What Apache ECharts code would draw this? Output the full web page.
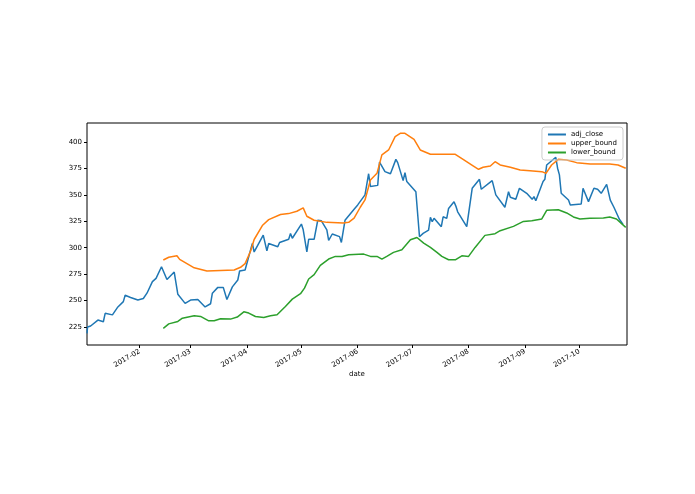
<!DOCTYPE html>
<html>
<head>
<meta charset="utf-8">
<script src="https://cdn.jsdelivr.net/npm/echarts@6/dist/echarts.min.js"></script>
<style>
  html, body { margin: 0; padding: 0; background: #fff; }
  #chart { width: 695px; height: 494px; }
</style>
</head>
<body>
<div id="chart"></div>
<script>
// days counted from 2017-01-01
const closeDays = [2, 2.3, 4, 8, 11, 12, 16, 19, 22, 23, 26, 30, 33, 35, 38, 40, 43, 44, 46, 50, 52, 56, 59, 63, 67, 70, 71, 74, 77, 79, 82, 85, 86, 89, 93, 94, 99, 101, 102, 107, 108, 109, 113, 114, 115, 120, 121, 123, 124, 127, 129, 131, 134, 135, 137, 141, 142, 144, 149, 151, 152, 155, 157, 158, 162, 163, 166, 169, 172, 173, 176, 177, 178, 183, 185, 187, 190, 191, 192, 193, 197, 198, 200, 201, 204, 205, 206, 211, 214, 215, 218, 219, 225, 226, 227, 232, 234, 235, 238, 240, 244, 247, 248, 249, 253, 254, 255, 260, 261, 262, 263, 267, 268, 274, 275, 276, 278, 281, 283, 285, 288, 290, 292, 295, 296, 297, 298.5];
const closeVals = [219, 225, 226, 231.6, 230, 238, 236.5, 244, 249, 255, 253, 250.5, 252, 257, 268, 271, 282, 281, 270, 277, 256, 247.4, 250.5, 251, 244, 247, 257, 262.5, 262.5, 251, 263, 269.5, 278, 279, 304, 296, 312, 297, 304, 301, 305, 303.5, 308, 313.5, 309, 322.4, 317, 296, 308, 308, 326, 325.5, 317, 307, 313, 310.5, 305, 326, 336.5, 340.5, 340, 350, 370, 358, 359, 381, 372, 370, 383.6, 380.5, 363.5, 371, 362.6, 353, 310.4, 313.6, 316.7, 328.7, 324.6, 327.8, 319.9, 329.3, 327.8, 337.2, 343.5, 339.4, 334, 319.9, 356.2, 355.3, 364.7, 355.3, 363.5, 362.6, 350, 338.3, 353, 347.7, 345.8, 356.2, 351.5, 345.8, 348.3, 344.5, 362.6, 364.7, 378.3, 385.6, 375.2, 368.9, 351.5, 345.2, 340.5, 341.4, 356.2, 356.9, 343.6, 356.2, 355.3, 351.5, 360, 345, 338.3, 327, 324.6, 322];

const upperDays = [44, 47, 51.5, 53, 57, 61, 68, 75.5, 83, 86.5, 89, 92, 94, 98.5, 102, 108.5, 113, 117.5, 121, 123, 127, 134, 143, 146, 149, 152.4, 155, 158, 161.6, 164.3, 168, 171.6, 174.4, 177, 182, 185.4, 191, 198, 204.7, 209, 214.7, 217.5, 220, 224, 226.6, 229.4, 235, 240.4, 245.8, 252.3, 254.6, 257.7, 261.4, 266, 271.5, 279, 289.7, 294.3, 298.5];
const upperVals = [288.4, 291, 292.4, 289, 285, 281, 278, 278.5, 279, 281.5, 285, 296.7, 307.8, 321, 326.6, 331.4, 332.3, 334.5, 337.7, 329.8, 326, 324, 323.5, 324, 328, 338.3, 345.2, 364.1, 370.4, 387.8, 392.5, 405.1, 408.3, 408.3, 402.6, 392.5, 388.4, 388.4, 388.4, 383.6, 377.3, 374.2, 376.1, 377.3, 381.4, 378.3, 376.1, 373.5, 372.9, 372, 370.4, 378.3, 383.6, 383, 380.5, 379.2, 379.2, 378.3, 375.2];

const lowerDays = [44, 47, 52, 54.5, 61, 64.5, 69, 72, 75.5, 81, 84.7, 88.3, 91, 94.7, 99.3, 103, 106.6, 111.2, 115, 119.5, 121.7, 124, 127, 130.4, 135, 138.7, 142.4, 146, 154.3, 158, 161.6, 164.3, 167, 170.7, 175.3, 180, 183.6, 187.3, 191, 194.6, 197.3, 201, 204.7, 208.3, 212, 215.6, 221, 226.6, 229.4, 236.7, 242.2, 246.8, 252.3, 255, 261.4, 266, 269.7, 273.3, 278.8, 286.2, 289.7, 293.4, 298.5];
const lowerVals = [223.8, 228, 230.3, 233.4, 235.6, 235, 230.9, 230.9, 232.8, 232.5, 234.4, 239.4, 238.2, 235, 234.1, 235.6, 236.6, 244.5, 251.4, 256.5, 261.8, 270.4, 274.5, 283.3, 289.3, 291.8, 291.8, 293.4, 294, 291.8, 291.8, 289.3, 291.8, 295.6, 298.1, 307.5, 309.7, 304.4, 300.3, 295.6, 291.8, 288.6, 288.6, 292.4, 291.8, 300.3, 311.7, 313.3, 316.1, 320.2, 324.9, 325.6, 327.2, 335.4, 336, 332.9, 329.1, 327.2, 327.8, 328.1, 329.1, 327.2, 319.3];

const monthTicks = ['2017-02-01', '2017-03-01', '2017-04-01', '2017-05-01', '2017-06-01', '2017-07-01', '2017-08-01', '2017-09-01', '2017-10-01'];
const yTicks = [225, 250, 275, 300, 325, 350, 375, 400];

const base = Date.UTC(2017, 0, 1);
const toTime = d => base + d * 86400000;
const pairs = (days, vals) => days.map((d, i) => [toTime(d), vals[i]]);
const tickTimes = monthTicks.map(s => Date.parse(s + 'T00:00:00Z'));
const fmtMonth = v => {
  const dt = new Date(v);
  return dt.getUTCFullYear() + '-' + String(dt.getUTCMonth() + 1).padStart(2, '0');
};

const chart = echarts.init(document.getElementById('chart'));
const font = 'DejaVu Sans';
const lineSeries = (name, data, color) => ({
  name, type: 'line', data, showSymbol: false, color,
  lineStyle: { width: 1.5, color }
});

chart.setOption({
  animation: false,
  textStyle: { fontFamily: font },
  grid: { left: 87, right: 68, top: 123, bottom: 149, show: true, borderColor: '#000', borderWidth: 1 },
  legend: {
    right: 72, top: 127, orient: 'vertical', itemGap: 2, itemWidth: 18, itemHeight: 2,
    padding: [4, 6], borderColor: '#ccc', borderWidth: 1, borderRadius: 3,
    icon: 'rect', textStyle: { fontSize: 7, color: '#000' },
    data: ['adj_close', 'upper_bound', 'lower_bound']
  },
  xAxis: {
    type: 'value', min: toTime(2), max: toTime(299.2),
    name: 'date', nameLocation: 'middle', nameGap: 25,
    nameTextStyle: { fontSize: 7, color: '#000' },
    axisLine: { show: false }, splitLine: { show: false },
    axisTick: { show: true, customValues: tickTimes, length: 3, lineStyle: { color: '#000' } },
    axisLabel: {
      customValues: tickTimes, rotate: 30, fontSize: 7, color: '#000', margin: 6,
      formatter: fmtMonth
    }
  },
  yAxis: {
    type: 'value', min: 208, max: 418,
    axisLine: { show: false }, splitLine: { show: false },
    axisTick: { show: true, customValues: yTicks, length: 3, lineStyle: { color: '#000' } },
    axisLabel: { customValues: yTicks, fontSize: 7, color: '#000', margin: 5 }
  },
  series: [
    lineSeries('adj_close', pairs(closeDays, closeVals), '#1f77b4'),
    lineSeries('upper_bound', pairs(upperDays, upperVals), '#ff7f0e'),
    lineSeries('lower_bound', pairs(lowerDays, lowerVals), '#2ca02c')
  ]
});
</script>
</body>
</html>
